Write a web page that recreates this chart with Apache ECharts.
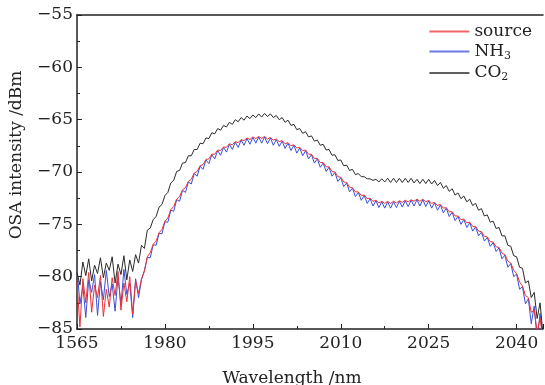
<!DOCTYPE html>
<html>
<head>
<meta charset="utf-8">
<script src="https://cdn.jsdelivr.net/npm/echarts@6/dist/echarts.min.js"></script>
<style>html,body{margin:0;padding:0;background:#fff}#c{width:545px;height:385px}</style>
</head>
<body>
<div id="c"></div>
<script>
// Wavelength grid (nm), 0.5 nm steps
const wavelengths = [
1965,1965.5,1966,1966.5,1967,1967.5,1968,1968.5,1969,1969.5,1970,1970.5,1971,1971.5,1972,1972.5,1973,1973.5,1974,1974.5,1975,1975.5,1976,1976.5,
1977,1977.5,1978,1978.5,1979,1979.5,1980,1980.5,1981,1981.5,1982,1982.5,1983,1983.5,1984,1984.5,1985,1985.5,1986,1986.5,1987,1987.5,1988,1988.5,1989,1989.5,
1990,1990.5,1991,1991.5,1992,1992.5,1993,1993.5,1994,1994.5,1995,1995.5,1996,1996.5,1997,1997.5,1998,1998.5,1999,1999.5,2000,2000.5,2001,2001.5,2002,2002.5,
2003,2003.5,2004,2004.5,2005,2005.5,2006,2006.5,2007,2007.5,2008,2008.5,2009,2009.5,2010,2010.5,2011,2011.5,2012,2012.5,2013,2013.5,2014,2014.5,2015,2015.5,
2016,2016.5,2017,2017.5,2018,2018.5,2019,2019.5,2020,2020.5,2021,2021.5,2022,2022.5,2023,2023.5,2024,2024.5,2025,2025.5,2026,2026.5,2027,2027.5,2028,2028.5,
2029,2029.5,2030,2030.5,2031,2031.5,2032,2032.5,2033,2033.5,2034,2034.5,2035,2035.5,2036,2036.5,2037,2037.5,2038,2038.5,2039,2039.5,2040,2040.5,2041,2041.5,
2042,2042.5,2043,2043.5,2044,2044.5
];

const sourceValues = [
-80.5,-84.8,-80.2,-82.5,-79.6,-83.4,-80.8,-82.0,-79.9,-83.8,-81.2,-82.9,-80.1,-81.8,-79.5,-83.2,-80.6,-82.4,-80.0,-83.6,-80.4,-81.6,-80.2,-79.5,
-78.1,-77.7,-76.9,-76.6,-75.8,-75.5,-74.7,-74.4,-73.6,-73.3,-72.6,-72.35,-71.7,-71.5,-70.9,-70.7,-70.1,-69.95,-69.4,-69.3,-68.8,-68.75,-68.3,-68.3,-67.9,-67.95,
-67.6,-67.65,-67.3,-67.4,-67.1,-67.2,-66.9,-67.0,-66.75,-66.9,-66.65,-66.8,-66.6,-66.8,-66.6,-66.85,-66.7,-66.95,-66.85,-67.1,-67.0,-67.3,-67.2,-67.5,-67.4,-67.7,
-67.65,-67.95,-67.9,-68.3,-68.3,-68.7,-68.7,-69.1,-69.1,-69.5,-69.5,-69.95,-70.0,-70.45,-70.5,-70.95,-71.0,-71.45,-71.5,-71.9,-71.9,-72.25,-72.2,-72.55,-72.5,-72.8,
-72.7,-72.95,-72.8,-73.0,-72.8,-73.0,-72.8,-72.95,-72.75,-72.9,-72.7,-72.85,-72.65,-72.8,-72.6,-72.8,-72.6,-72.85,-72.7,-73.0,-72.9,-73.2,-73.1,-73.45,-73.4,-73.8,
-73.8,-74.2,-74.2,-74.55,-74.5,-74.85,-74.8,-75.2,-75.2,-75.65,-75.7,-76.15,-76.2,-76.65,-76.7,-77.15,-77.2,-77.75,-77.9,-78.5,-78.7,-79.4,-79.7,-80.5,-80.9,-81.8,
-82.0,-83.4,-83.2,-85.3,-84.0,-86.0
];

const nh3Values = [
-79.2,-82.6,-80.9,-83.9,-80.3,-81.5,-79.8,-83.7,-80.5,-82.2,-79.4,-81.9,-80.7,-83.3,-80.0,-82.7,-79.3,-81.7,-80.6,-83.9,-80.2,-82.0,-80.3,-79.4,
-78.15,-78.2,-76.95,-77.0,-75.85,-75.9,-74.75,-74.8,-73.65,-73.75,-72.65,-72.8,-71.75,-71.95,-70.95,-71.15,-70.15,-70.4,-69.45,-69.75,-68.85,-69.2,-68.35,-68.75,-67.95,-68.4,
-67.65,-68.1,-67.35,-67.85,-67.15,-67.65,-66.95,-67.45,-66.8,-67.35,-66.7,-67.25,-66.65,-67.25,-66.65,-67.3,-66.75,-67.45,-66.9,-67.55,-67.05,-67.75,-67.25,-67.95,-67.45,-68.2,
-67.7,-68.45,-67.95,-68.75,-68.35,-69.15,-68.75,-69.55,-69.15,-69.95,-69.55,-70.4,-70.05,-70.9,-70.55,-71.4,-71.05,-71.9,-71.55,-72.35,-71.95,-72.7,-72.25,-73.0,-72.55,-73.25,
-72.75,-73.4,-72.85,-73.45,-72.85,-73.45,-72.85,-73.4,-72.8,-73.35,-72.75,-73.3,-72.7,-73.25,-72.65,-73.25,-72.65,-73.3,-72.75,-73.45,-72.95,-73.65,-73.15,-73.9,-73.45,-74.25,
-73.85,-74.65,-74.25,-75.0,-74.55,-75.3,-74.85,-75.65,-75.25,-76.1,-75.75,-76.6,-76.25,-77.1,-76.75,-77.6,-77.25,-78.3,-77.95,-79.1,-78.75,-80.0,-79.75,-81.2,-80.95,-82.6,
-82.1,-84.5,-82.8,-86.0,-83.5,-86.0
];

const co2Values = [
-79.6,-80.8,-78.6,-79.9,-78.3,-80.4,-78.9,-79.7,-78.2,-80.1,-78.7,-79.4,-78.1,-80.6,-78.8,-79.8,-78.0,-80.3,-78.4,-79.5,-77.9,-78.7,-77.0,-77.3,
-75.55,-75.35,-74.55,-74.25,-73.35,-73.1,-72.25,-71.95,-71.05,-70.8,-69.95,-69.85,-69.15,-69.1,-68.45,-68.45,-67.85,-67.85,-67.25,-67.3,-66.75,-66.8,-66.25,-66.35,-65.85,-66.0,
-65.55,-65.7,-65.25,-65.45,-65.0,-65.2,-64.8,-65.05,-64.65,-64.9,-64.55,-64.8,-64.45,-64.75,-64.4,-64.7,-64.45,-64.8,-64.6,-65.0,-64.8,-65.25,-65.05,-65.55,-65.45,-65.95,
-65.85,-66.3,-66.15,-66.65,-66.55,-67.05,-66.95,-67.45,-67.35,-67.9,-67.85,-68.4,-68.35,-68.9,-68.85,-69.4,-69.35,-69.85,-69.75,-70.25,-70.15,-70.45,-70.45,-70.65,-70.65,-70.8,
-70.7,-70.95,-70.65,-70.95,-70.6,-71.0,-70.6,-71.0,-70.6,-71.0,-70.6,-71.0,-70.6,-71.05,-70.7,-71.1,-70.7,-71.1,-70.7,-71.15,-70.8,-71.3,-71.0,-71.55,-71.3,-71.85,
-71.6,-72.2,-72.0,-72.55,-72.3,-72.85,-72.6,-73.2,-73.0,-73.65,-73.5,-74.2,-74.1,-74.8,-74.7,-75.4,-75.3,-76.1,-76.1,-77.0,-77.1,-78.0,-78.1,-79.1,-79.2,-80.6,
-80.4,-82.0,-81.5,-84.0,-82.5,-85.5
];

const xTickLabels = {1965: '1565', 1980: '1980', 1995: '1995', 2010: '2010', 2025: '2025', 2040: '2040'};
const seriesNames = ['source', 'NH3', 'CO2'];
const seriesColors = ['#e8303a', '#3a4fd8', '#2a2a2a'];
const seriesValues = [sourceValues, nh3Values, co2Values];
const seriesZ = [3, 2, 4];

const pair = vals => wavelengths.map((w, i) => [w, vals[i]]);
const FONT = 'DejaVu Serif';
const INK = '#222';

const chart = echarts.init(document.getElementById('c'), null, {renderer: 'canvas'});
chart.setOption({
  backgroundColor: '#fff',
  animation: false,
  grid: {left: 77, top: 15, right: 2, bottom: 56, containLabel: false, outerBoundsMode: 'none'},
  legend: {
    show: true, orient: 'vertical', right: 8, top: 18, itemWidth: 40, itemHeight: 2, itemGap: 3,
    icon: 'rect',
    data: seriesNames.map((n, i) => ({name: n, icon: 'rect', itemStyle: {color: seriesColors[i], opacity: 0.75}})),
    textStyle: {fontFamily: FONT, fontSize: 17, color: INK,
      rich: {t: {fontFamily: FONT, fontSize: 17, color: INK}, s: {fontFamily: FONT, fontSize: 11, color: INK, padding: [9, 0, 0, 0]}}},
    formatter: n => n === 'NH3' ? '{t|NH}{s|3}' : (n === 'CO2' ? '{t|CO}{s|2}' : '{t|' + n + '}')
  },
  xAxis: [{
    type: 'value', min: 1965, max: 2044.5, interval: 15,
    name: 'Wavelength /nm', nameLocation: 'middle', nameGap: 41,
    nameTextStyle: {fontFamily: FONT, fontSize: 17, color: INK, padding: [0, 36, 0, 0]},
    axisLine: {show: true, onZero: false, lineStyle: {color: INK, width: 1.5}},
    axisTick: {show: true, inside: true, length: 5, lineStyle: {color: INK}},
    minorTick: {show: true, splitNumber: 2, length: 3, lineStyle: {color: INK}},
    splitLine: {show: false},
    axisLabel: {fontFamily: FONT, fontSize: 17, color: INK, margin: 6,
      formatter: v => xTickLabels[v] !== undefined ? xTickLabels[v] : ''}
  }, {
    type: 'value', position: 'top', min: 1965, max: 2044.5,
    axisLine: {show: true, onZero: false, lineStyle: {color: INK, width: 1.5}},
    axisTick: {show: false}, axisLabel: {show: false}, splitLine: {show: false}
  }],
  yAxis: {
    type: 'value', min: -85, max: -55, interval: 5,
    name: 'OSA intensity /dBm', nameLocation: 'middle', nameGap: 52,
    nameTextStyle: {fontFamily: FONT, fontSize: 17, color: INK, padding: [0, 0, 0, 34]},
    axisLine: {show: true, onZero: false, lineStyle: {color: INK, width: 1.5}},
    axisTick: {show: true, inside: true, length: 5, lineStyle: {color: INK}},
    minorTick: {show: true, splitNumber: 2, length: 3, lineStyle: {color: INK}},
    splitLine: {show: false},
    axisLabel: {fontFamily: FONT, fontSize: 17, color: INK, margin: 4,
      formatter: v => String(v).replace('-', '\u2212')}
  },
  series: seriesNames.map((n, i) => ({
    name: n, type: 'line', data: pair(seriesValues[i]), symbol: 'none', z: seriesZ[i],
    lineStyle: {color: seriesColors[i], width: 1}, itemStyle: {color: seriesColors[i]}
  }))
});
</script>
</body>
</html>
